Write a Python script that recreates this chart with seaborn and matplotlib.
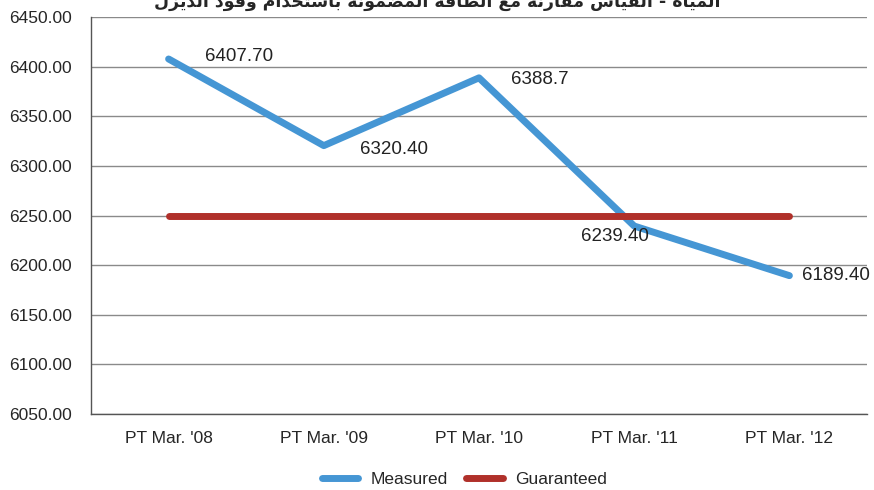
import pandas as pd
import seaborn as sns
import matplotlib.pyplot as plt

# data
periods = ["PT Mar. '08", "PT Mar. '09", "PT Mar. '10", "PT Mar. '11", "PT Mar. '12"]
measured = [6407.7, 6320.4, 6388.7, 6239.4, 6189.4]
guaranteed = [6250, 6250, 6250, 6250, 6250]
point_labels = ["6407.70", "6320.40", "6388.7", "6239.40", "6189.40"]
title = "المياه - القياس مقارنة مع الطاقة المضمونة باستخدام وقود الديزل"

# label offsets in pixels (dx, dy, ha)
label_offsets = [(36, 2, "left"), (36, -4, "left"), (32, -2, "left"),
                 (-19, -10, "center"), (13, 0, "left")]

# tiny arabic shaper: matplotlib draws no joined forms by itself
FORMS = {"ا": 0xFE8D, "ب": 0xFE8F, "ة": 0xFE93, "ت": 0xFE95, "خ": 0xFEA5,
         "د": 0xFEA9, "ر": 0xFEAD, "ز": 0xFEAF, "س": 0xFEB1, "ض": 0xFEBD,
         "ط": 0xFEC1, "ع": 0xFEC9, "ف": 0xFED1, "ق": 0xFED5, "ل": 0xFEDD,
         "م": 0xFEE1, "ن": 0xFEE5, "ه": 0xFEE9, "و": 0xFEED, "ي": 0xFEF1}
RIGHT_ONLY = set("اةدذرزو")


def shape(s):
    out = []
    for i, ch in enumerate(s):
        if ch not in FORMS:
            out.append(ch)
            continue
        prev = s[i - 1] if i > 0 else ""
        nxt = s[i + 1] if i + 1 < len(s) else ""
        jp = prev in FORMS and prev not in RIGHT_ONLY
        jn = ch not in RIGHT_ONLY and nxt in FORMS
        base = FORMS[ch]
        if jp and jn:
            base += 3
        elif jp:
            base += 1
        elif jn:
            base += 2
        out.append(chr(base))
    return "".join(reversed(out))


df = pd.DataFrame({
    "period": periods * 2,
    "value": measured + guaranteed,
    "series": ["Measured"] * 5 + ["Guaranteed"] * 5,
})

sns.set_style("white")
plt.rcParams["font.family"] = ["Liberation Sans", "DejaVu Sans"]

fig = plt.figure(figsize=(8.74, 4.90), dpi=100)
ax = fig.add_axes([91 / 874, 76 / 490, 776 / 874, 397 / 490])

sns.lineplot(data=df, x="period", y="value", hue="series",
             palette={"Measured": "#4596d4", "Guaranteed": "#b0302a"},
             linewidth=5, ax=ax, sort=False, legend=True)
for ln in ax.lines:
    ln.set_solid_capstyle("round")
    ln.set_zorder(3)

for i, (v, t) in enumerate(zip(measured, point_labels)):
    dx, dy, ha = label_offsets[i]
    ax.annotate(t, (i, v), xytext=(dx, dy), textcoords="offset pixels",
                ha=ha, va="center", fontsize=13.5, color="#222222")

ax.set_xlim(-0.5, 4.5)
ax.set_ylim(6050, 6450)
ax.set_yticks(range(6050, 6451, 50))
ax.set_yticklabels([f"{v:.2f}" for v in range(6050, 6451, 50)], fontsize=12.5)
ax.set_xticks(range(5))
ax.set_xticklabels(periods, fontsize=12.5)
ax.set_xticks([i - 0.5 for i in range(5)], minor=True)
ax.tick_params(axis="x", which="major", length=0, pad=12)
ax.tick_params(axis="x", which="minor", length=9, width=1, color="#555555", direction="out")
ax.tick_params(axis="y", length=10, width=1, color="#555555", pad=4, direction="out")
ax.yaxis.grid(True, color="#8a8a8a", linewidth=1)
ax.set_axisbelow(True)
ax.set_xlabel("")
ax.set_ylabel("")
for s in ["top", "right"]:
    ax.spines[s].set_visible(False)
for s in ["left", "bottom"]:
    ax.spines[s].set_color("#555555")
    ax.spines[s].set_linewidth(1)

handles, labels = ax.get_legend_handles_labels()
ax.legend(handles, labels, loc="center", bbox_to_anchor=(0.481, -0.165),
          ncol=2, frameon=False, fontsize=12.5, handlelength=2.1,
          columnspacing=1.1, handletextpad=0.7)

fig.text(0.5, 1 - 7 / 490, shape(title), ha="center", va="baseline",
         fontsize=12.5, fontweight="bold", family=["DejaVu Sans"])

fig.savefig("out.png", dpi=100)
